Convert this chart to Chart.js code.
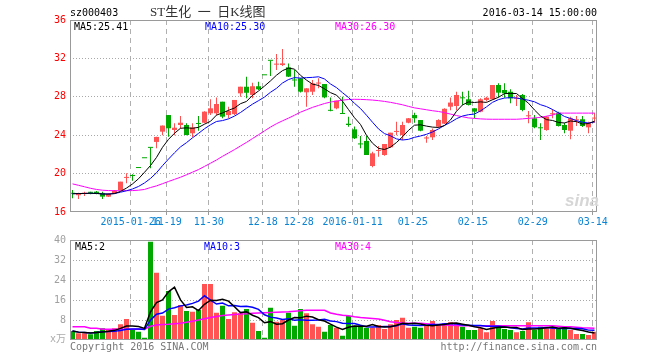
<!DOCTYPE html>
<html><head><meta charset="utf-8">
<script src="https://cdn.jsdelivr.net/npm/chart.js@4.4.0/dist/chart.umd.min.js"></script>
<style>
html,body{margin:0;padding:0;background:#fff;width:660px;height:360px;overflow:hidden;}
#wrap{position:relative;width:660px;height:360px;}
.layer{position:absolute;left:0;top:0;width:660px;height:360px;}
.t{position:absolute;font-family:"DejaVu Sans Mono",monospace;font-size:10px;line-height:10px;white-space:pre;}
</style></head><body>
<div id="wrap">
<div class="layer"><canvas id="price" width="660" height="360"></canvas></div>
<div class="layer"><canvas id="vol" width="660" height="360"></canvas></div>
<div class="t" style="left:70px;top:8px;color:#000">sz000403</div>
<div class="t" style="left:150px;top:5px;font-family:'Liberation Serif','Noto Sans CJK SC',serif;font-size:13px;line-height:13px;color:#333">ST生化 &nbsp;一 &nbsp;日K线图</div>
<div class="t" style="right:63px;top:8px;color:#000">2016-03-14 15:00:00</div>
<div class="t" style="left:74px;top:22px;color:#000">MA5:25.41</div>
<div class="t" style="left:205px;top:22px;color:#0000ff">MA10:25.30</div>
<div class="t" style="left:335px;top:22px;color:#ff00ff">MA30:26.30</div>
<div class="t" style="left:75px;top:242px;color:#000">MA5:2</div>
<div class="t" style="left:204px;top:242px;color:#0000ff">MA10:3</div>
<div class="t" style="left:335px;top:242px;color:#ff00ff">MA30:4</div>
<div class="t" style="left:50px;top:334px;color:#aaa;font-family:'DejaVu Sans Mono','Noto Sans CJK SC',monospace">x万</div>
<div class="t" style="left:70px;top:342px;color:#777">Copyright 2016 SINA.COM</div>
<div class="t" style="right:63px;top:342px;color:#777">http://finance.sina.com.cn</div>
<div class="t" style="left:565px;top:192px;font-family:'Liberation Sans',sans-serif;font-size:17px;line-height:17px;font-style:italic;font-weight:bold;color:#d6d6d6">sina</div>
</div>
<script>
// ---- data ----
const dates = [
'2015-01-12','2015-01-13','2015-01-14','2015-01-15','2015-01-16','2015-01-19','2015-01-20','2015-01-21','2015-01-22','2015-01-23','2015-01-26',
'2015-11-12','2015-11-13','2015-11-16','2015-11-17','2015-11-18','2015-11-19','2015-11-20','2015-11-23','2015-11-24','2015-11-25','2015-11-26','2015-11-27','2015-11-30',
'2015-12-01','2015-12-02','2015-12-03','2015-12-04','2015-12-07','2015-12-08','2015-12-09','2015-12-10','2015-12-18','2015-12-21','2015-12-22','2015-12-23','2015-12-24','2015-12-25','2015-12-28','2015-12-29','2015-12-30','2015-12-31',
'2016-01-04','2016-01-05','2016-01-06','2016-01-07','2016-01-08','2016-01-11','2016-01-12','2016-01-13','2016-01-14','2016-01-15','2016-01-18','2016-01-19','2016-01-20','2016-01-21','2016-01-22','2016-01-25','2016-01-26','2016-01-27','2016-01-28','2016-01-29',
'2016-02-01','2016-02-02','2016-02-03','2016-02-04','2016-02-05','2016-02-15','2016-02-16','2016-02-17','2016-02-18','2016-02-19','2016-02-22','2016-02-23','2016-02-24','2016-02-25','2016-02-26','2016-02-29',
'2016-03-01','2016-03-02','2016-03-03','2016-03-04','2016-03-07','2016-03-08','2016-03-09','2016-03-10','2016-03-11','2016-03-14'];
const tickDates = ['2015-01-26','2015-11-19','2015-11-30','2015-12-18','2015-12-28','2016-01-11','2016-01-25','2016-02-15','2016-02-29','2016-03-14'];
const tickLabels = ['2015-01-26','11-19','11-30','12-18','12-28','2016-01-11','01-25','02-15','02-29','03-14'];
const priceTicks = [16,20,24,28,32,36];
const volTicks = [0,8,16,24,32,40];

const open = [18.0,17.75,17.9,18.02,18.12,17.95,17.6,17.95,18.29,19.55, 19.78,20.58,21.6,22.68,23.3,24.37,26.1,24.54,25.06,25.06, 24.2,25.2,25.3,26.28,26.28,27.49,26.1,26.2,28.36,29.05, 28.2,29.1,30.24,31.75,31.35,31.31,31.07,29.75,29.92,28.47, 28.53,29.38,29.33,26.58,26.8,26.25,25.2,24.61,23.08,23.4, 20.79,22.36,21.94,22.74,24.34,24.02,25.3,26.1,25.58,23.66, 23.78,24.89,25.2,26.97,27.04,27.86,27.74,26.8,26.45,27.67, 27.74,29.23,28.71,28.53,27.8,28.19,25.97,25.76,24.75,24.54, 26.18,26.34,25.06,24.47,25.55,25.66,24.82,25.73];
const high = [18.29,18.0,18.12,18.12,18.18,18.12,17.95,18.29,19.16,20.03, 19.93,20.58,21.6,22.68,23.85,25.0,26.1,25.24,26.0,25.24, 25.24,26.0,26.5,27.74,27.94,27.49,26.97,27.67,29.05,30.1, 29.47,29.57,30.24,31.75,32.46,32.98,31.48,30.79,29.95,28.88, 29.75,29.92,29.33,27.94,27.6,28.0,25.93,24.9,23.92,23.92, 22.28,22.88,23.08,24.26,25.4,25.4,25.8,26.34,25.58,23.92, 24.7,25.65,26.8,27.94,28.53,28.53,28.64,26.8,27.84,28.0, 29.23,29.4,29.4,28.78,28.19,28.3,26.52,26.1,25.24,26.0, 26.7,26.45,25.3,25.93,26.0,26.0,25.4,26.34];
const low = [17.43,17.36,17.67,17.85,17.85,17.36,17.55,17.88,18.22,19.0, 19.26,20.58,21.6,20.55,22.65,24.0,23.85,24.0,24.7,24.0, 23.78,24.47,25.24,26.1,26.1,25.76,25.76,26.1,28.0,27.84, 27.84,28.7,30.24,30.17,30.79,31.2,30.05,29.05,28.45,26.97, 28.2,28.88,27.84,26.5,26.7,26.2,24.89,23.6,22.64,21.94, 20.66,21.76,21.85,22.7,24.0,23.5,25.24,25.3,24.4,23.22, 23.5,24.8,25.17,26.6,26.6,27.15,27.1,25.76,26.4,27.5, 27.7,27.94,27.9,27.32,27.04,26.5,25.24,24.72,23.5,24.47, 25.76,24.9,24.2,23.57,24.96,24.85,24.2,25.3];
const close = [17.9,17.95,17.95,18.0,17.88,17.6,17.88,18.22,19.16,19.6, 19.75,20.58,21.6,22.68,23.82,25.0,24.72,24.78,25.3,24.02, 24.8,25.17,26.45,26.8,27.25,25.93,26.52,27.67,29.05,28.42, 29.1,28.78,30.24,31.75,31.38,31.48,30.1,29.7,28.53,28.88, 29.4,29.4,27.94,26.54,27.6,26.21,25.06,23.68,23.04,21.94, 22.11,22.39,23.08,24.26,24.37,25.06,25.76,25.76,24.47,23.68, 24.54,25.58,26.75,27.4,28.19,27.84,27.15,26.45,27.74,27.9, 29.23,28.43,28.36,27.84,27.84,26.63,26.0,24.82,24.72,25.93, 26.21,24.96,24.54,25.76,25.58,24.96,25.24,25.76];
const ma30 = [18.93,18.78,18.63,18.47,18.35,18.27,18.23,18.22,18.22,18.22, 18.23,18.27,18.35,18.55,18.72,18.95,19.18,19.4,19.62,19.88, 20.15,20.42,20.75,21.08,21.42,21.8,22.15,22.5,22.88,23.25, 23.65,24.05,24.45,24.85,25.2,25.5,25.78,26.08,26.4,26.65, 26.9,27.1,27.3,27.45,27.55,27.65,27.72,27.74,27.73,27.7, 27.66,27.6,27.52,27.42,27.3,27.17,27.0,26.85,26.75,26.65, 26.55,26.47,26.35,26.2,26.05,25.92,25.8,25.75,25.7,25.67, 25.66,25.66,25.66,25.66,25.66,25.7,25.76,25.8,25.86,25.98, 26.1,26.3,26.3,26.3,26.3,26.3,26.3,26.3];
const volume = [3.6,2.7,2.7,2.3,3.6,4.7,4.0,4.7,6.3,8.4, 4.4,3.3,0.9,39.3,26.9,9.7,19.6,10.0,14.0,11.6, 11.3,12.0,22.4,22.4,10.9,13.7,8.4,11.1,10.7,12.4, 6.9,3.6,0.9,12.9,7.3,8.0,10.9,5.7,12.4,10.7, 6.3,5.3,3.3,6.0,4.9,1.7,9.6,5.7,5.7,4.9, 4.9,6.0,4.4,6.3,8.0,8.9,4.9,5.3,4.9,5.7, 7.6,6.3,6.7,7.1,6.3,5.3,4.0,4.0,4.7,3.1, 7.6,6.0,4.4,4.0,3.1,3.6,7.1,4.0,5.3,4.7, 4.7,4.7,5.3,4.0,2.4,2.4,2.0,3.3];
const volMa30 = [5.3,5.3,5.3,4.7,4.7,4.3,4.3,4.3,4.3,4.3, 4.3,4.3,4.3,5.5,6.0,6.2,6.3,6.5,6.7,7.1, 7.5,8.0,8.5,9.0,9.4,9.8,10.0,10.2,10.4,10.5, 10.7,10.8,10.9,11.0,11.1,11.2,11.3,11.5,11.7,11.9, 11.9,11.9,11.9,10.8,10.3,9.9,9.7,9.3,9.0,8.8, 8.6,8.4,7.9,7.3,7.0,6.8,6.7,6.7,6.7,6.5, 6.3,6.0,6.0,5.9,5.8,5.7,5.7,5.7,5.7,5.7, 5.7,5.7,5.7,5.7,5.7,5.7,5.7,5.7,5.7,5.7, 5.7,5.5,5.3,5.3,5.1,4.9,4.8,4.7];

// ---- helpers ----
const RED = '#ff5252', GREEN = '#00a800';
const up = close.map((c, i) => c > open[i]);
const candleColor = up.map(u => u ? RED : GREEN);
function movingAvg(arr, n) {
  return arr.map((_, i) => {
    const s = arr.slice(Math.max(0, i - n + 1), i + 1);
    return s.reduce((a, b) => a + b, 0) / s.length;
  });
}
const pts = arr => arr.map((v, i) => ({x: i, y: v}));
const tickIdx = tickDates.map(d => dates.indexOf(d));
const X_MIN = -2.5 / 6, X_MAX = X_MIN + 527 / 6;

const framePlugin = {
  id: 'frame',
  afterDraw(chart) {
    const {ctx, chartArea: a} = chart;
    ctx.save();
    ctx.strokeStyle = '#9a9a9a';
    ctx.lineWidth = 1;
    ctx.strokeRect(a.left + 0.5, a.top + 0.5, a.right - a.left - 1, a.bottom - a.top - 1);
    ctx.restore();
  }
};
const mono = {family: 'DejaVu Sans Mono', size: 10};

function xScale(showLabels, h) {
  return {
    type: 'linear', min: X_MIN, max: X_MAX, offset: false,
    afterBuildTicks: s => { s.ticks = tickIdx.map(i => ({value: i - 0.3})); },
    afterFit: s => { s.height = h; },
    ticks: {display: showLabels, autoSkip: false, maxRotation: 0, minRotation: 0, padding: 1,
      color: '#0c84d4', font: mono, callback: (v, i) => tickLabels[i]},
    grid: {offset: false, color: '#b0b0b0', lineWidth: 1, drawTicks: showLabels, tickLength: 3,
      tickColor: '#9a9a9a', tickBorderDash: []},
    border: {display: false, dash: [5, 4]}
  };
}
function yScale(min, max, ticks, color, hideZero) {
  return {
    type: 'linear', min, max,
    afterBuildTicks: s => { s.ticks = ticks.map(v => ({value: v})); },
    afterFit: s => { s.width = 70; },
    ticks: {color, font: mono, padding: 4,
      callback: v => (hideZero && v === 0) ? '' : String(v)},
    grid: {drawTicks: false, lineWidth: 1,
      color: c => (c.tick && (c.tick.value === min || c.tick.value === max)) ? 'rgba(0,0,0,0)' : '#a8a8a8'},
    border: {display: false, dash: [1, 2]}
  };
}
const lineDs = (data, color, w) => ({type: 'line', data: pts(data), borderColor: color, borderWidth: w,
  pointRadius: 0, tension: 0, fill: false, order: 0});

Chart.defaults.animation = false;

new Chart(document.getElementById('price'), {
  type: 'bar',
  data: {datasets: [
    {data: low.map((l, i) => ({x: i, y: [l, high[i]]})), backgroundColor: candleColor,
     barThickness: 1, grouped: false, inflateAmount: 0, order: 2},
    {data: open.map((o, i) => ({x: i, y: [o, close[i]]})), backgroundColor: candleColor,
     barThickness: 5, minBarLength: 1, grouped: false, inflateAmount: 0, order: 1},
    lineDs(movingAvg(close, 5), '#000000', 1),
    lineDs(movingAvg(close, 10), '#0000ff', 1),
    lineDs(ma30, '#ff00ff', 1)
  ]},
  options: {
    responsive: false, animation: false, devicePixelRatio: 1,
    layout: {padding: {left: 0, right: 63, top: 20, bottom: 125}},
    plugins: {legend: {display: false}, tooltip: {enabled: false}},
    scales: {x: xScale(true, 23), y: yScale(16, 36, priceTicks, '#ff0000', false)}
  },
  plugins: [framePlugin]
});

new Chart(document.getElementById('vol'), {
  type: 'bar',
  data: {datasets: [
    {data: pts(volume), backgroundColor: candleColor, barThickness: 5, inflateAmount: 0, order: 1},
    lineDs(movingAvg(volume, 5), '#000000', 1.5),
    lineDs(movingAvg(volume, 10), '#0000ff', 1.5),
    lineDs(volMa30, '#ff00ff', 1.5)
  ]},
  options: {
    responsive: false, animation: false, devicePixelRatio: 1,
    layout: {padding: {left: 0, right: 63, top: 240, bottom: 0}},
    plugins: {legend: {display: false}, tooltip: {enabled: false}},
    scales: {x: xScale(false, 20), y: yScale(0, 40, volTicks, '#a0a0a0', true)}
  },
  plugins: [framePlugin]
});
</script>
</body></html>
